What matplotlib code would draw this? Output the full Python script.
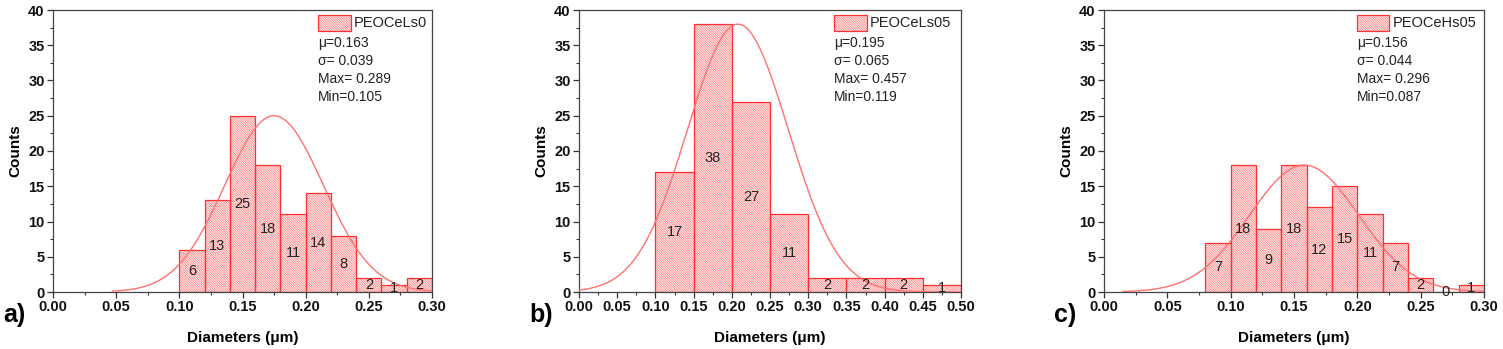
import numpy as np
import matplotlib
matplotlib.use('Agg')
import matplotlib.pyplot as plt
from matplotlib.patches import Rectangle
from matplotlib.ticker import MultipleLocator, AutoMinorLocator

plt.rcParams['font.family'] = ['Liberation Sans', 'DejaVu Sans']
plt.rcParams['hatch.linewidth'] = 0.6

# Panel a) PEOCeLs0
edges_a = [0.10, 0.12, 0.14, 0.16, 0.18, 0.20, 0.22, 0.24, 0.26, 0.28]
counts_a = [6, 13, 25, 18, 11, 14, 8, 2, 1, 2]
fit_a = dict(peak=0.175, amp=25, sigma=0.039, x0=0.047, x1=0.30)
stats_a = ['μ=0.163', 'σ= 0.039', 'Max= 0.289', 'Min=0.105']

# Panel b) PEOCeLs05
edges_b = [0.10, 0.15, 0.20, 0.25, 0.30, 0.35, 0.40, 0.45]
counts_b = [17, 38, 27, 11, 2, 2, 2, 1]
fit_b = dict(peak=0.208, amp=38, sigma=0.066, x0=0.0, x1=0.50)
stats_b = ['μ=0.195', 'σ= 0.065', 'Max= 0.457', 'Min=0.119']

# Panel c) PEOCeHs05
edges_c = [0.08, 0.10, 0.12, 0.14, 0.16, 0.18, 0.20, 0.22, 0.24, 0.26, 0.28]
counts_c = [7, 18, 9, 18, 12, 15, 11, 7, 2, 0, 1]
fit_c = dict(peak=0.158, amp=18, sigma=0.043, x0=0.015, x1=0.30)
stats_c = ['μ=0.156', 'σ= 0.044', 'Max= 0.296', 'Min=0.087']

panels = [
    ('a)', 'PEOCeLs0', edges_a, counts_a, 0.02, fit_a, stats_a, 0.30, [53, 432], 0.700),
    ('b)', 'PEOCeLs05', edges_b, counts_b, 0.05, fit_b, stats_b, 0.50, [579, 961], 0.668),
    ('c)', 'PEOCeHs05', edges_c, counts_c, 0.02, fit_c, stats_c, 0.30, [1104, 1484], 0.666),
]

W, H = 1503, 349
fig = plt.figure(figsize=(W / 100, H / 100), dpi=100)
red = '#ff3030'
hatchcol = '#ff8080'
fitcol = '#ff7070'
HATCH = '\\' * 14

for tag, name, edges, counts, width, fit, stats, xmax, (px0, px1), lx in panels:
    ax = fig.add_axes([px0 / W, 1 - 292 / H, (px1 - px0) / W, 282 / H])
    # hatch layer then outline layer
    ax.bar(edges, counts, width=width, align='edge', facecolor='white',
           edgecolor=hatchcol, hatch=HATCH, linewidth=0, zorder=2)
    ax.bar(edges, counts, width=width, align='edge', fill=False,
           edgecolor=red, linewidth=0.9, zorder=2.5)
    for e, c in zip(edges, counts):
        ax.text(e + width / 2, c / 2, str(c), ha='center', va='center',
                fontsize=10.5, color='#222222', zorder=4)
    xs = np.linspace(fit['x0'], fit['x1'], 400)
    ys = fit['amp'] * np.exp(-(xs - fit['peak']) ** 2 / (2 * fit['sigma'] ** 2))
    ax.plot(xs, ys, color=fitcol, lw=1.0, zorder=3)

    ax.set_xlim(0, xmax)
    ax.set_ylim(0, 40)
    ax.xaxis.set_major_locator(MultipleLocator(0.05))
    ax.yaxis.set_major_locator(MultipleLocator(5))
    ax.xaxis.set_minor_locator(AutoMinorLocator(2))
    ax.yaxis.set_minor_locator(AutoMinorLocator(2))
    ax.tick_params(which='major', direction='out', length=4, width=0.9,
                   labelsize=10.5, pad=2, colors='#333333', labelcolor='#111111')
    ax.tick_params(which='minor', direction='out', length=2, width=0.8, colors='#333333')
    ax.xaxis.set_major_formatter(plt.FuncFormatter(lambda v, p: f'{v:.2f}'))
    for lab in ax.get_xticklabels() + ax.get_yticklabels():
        lab.set_fontweight('bold')
    for sp in ax.spines.values():
        sp.set_linewidth(0.9)
        sp.set_color('#444444')
    ax.set_xlabel('Diameters (μm)', fontsize=11, fontweight='bold', labelpad=12)
    ax.set_ylabel('Counts', fontsize=11, fontweight='bold', labelpad=4)

    # legend-like box
    ax.add_patch(Rectangle((lx, 0.925), 0.085, 0.058, transform=ax.transAxes,
                           facecolor='white', edgecolor=hatchcol, hatch=HATCH,
                           linewidth=0, clip_on=False, zorder=5))
    ax.add_patch(Rectangle((lx, 0.925), 0.085, 0.058, transform=ax.transAxes,
                           fill=False, edgecolor=red, linewidth=0.9,
                           clip_on=False, zorder=5.5))
    ax.text(lx + 0.093, 0.954, name, transform=ax.transAxes, fontsize=10.5,
            va='center', ha='left', color='#222222')
    for i, s in enumerate(stats):
        ax.text(lx, 0.883 - i * 0.064, s, transform=ax.transAxes, fontsize=10,
                va='center', ha='left', color='#222222')

    fig.text((px0 - 50) / W, 1 - 315 / H, tag, fontsize=18, fontweight='bold',
             ha='left', va='center')

fig.savefig('out.png', dpi=100)
